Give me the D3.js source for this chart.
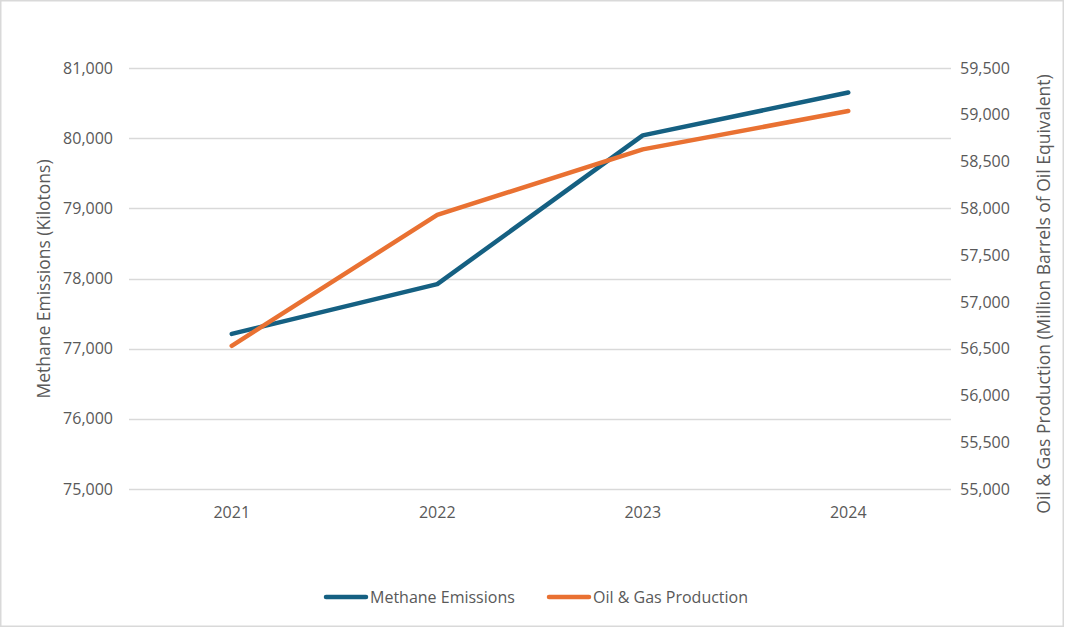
<!DOCTYPE html>
<html>
<head>
<meta charset="utf-8">
<script src="https://cdn.jsdelivr.net/npm/d3@7"></script>
<style>
  html, body { margin: 0; padding: 0; background: #fff; }
  svg { display: block; }
  text { font-family: "Open Sans", "Noto Sans", sans-serif; fill: #595959; }
</style>
</head>
<body>
<svg id="chart" width="1065" height="628"></svg>
<script>
const years = ["2021", "2022", "2023", "2024"];
const methane = [77210, 77920, 80040, 80650];
const oilGas = [56530, 57930, 58630, 59040];
const leftTicks = [75000, 76000, 77000, 78000, 79000, 80000, 81000];
const rightTicks = [55000, 55500, 56000, 56500, 57000, 57500, 58000, 58500, 59000, 59500];
const seriesNames = ["Methane Emissions", "Oil & Gas Production"];
const colors = ["#156082", "#E97132"];

const svg = d3.select("#chart");
const W = 1065, H = 628;
const plot = { left: 129, right: 951, top: 68, bottom: 489 };

svg.append("rect").attr("x", 0.75).attr("y", 0.75).attr("width", W - 2.5).attr("height", H - 2.5)
  .attr("fill", "#fff").attr("stroke", "#d9d9d9").attr("stroke-width", 1.5);

const x = d3.scaleBand().domain(years).range([plot.left, plot.right]);
const yL = d3.scaleLinear().domain([75000, 81000]).range([plot.bottom, plot.top]);
const yR = d3.scaleLinear().domain([55000, 59500]).range([plot.bottom, plot.top]);
const fmt = d3.format(",");

// gridlines
svg.append("g").selectAll("line").data(leftTicks).join("line")
  .attr("x1", plot.left).attr("x2", plot.right)
  .attr("y1", d => Math.round(yL(d)) + 0.5).attr("y2", d => Math.round(yL(d)) + 0.5)
  .attr("stroke", "#d9d9d9").attr("stroke-width", 1.3);

// left axis
const gL = svg.append("g").attr("transform", `translate(${plot.left},0)`)
  .call(d3.axisLeft(yL).tickValues(leftTicks).tickFormat(fmt).tickSize(0).tickPadding(16));
gL.select(".domain").remove();
gL.selectAll("text").style("font-size", "16px").attr("fill", "#595959");

// right axis
const gR = svg.append("g").attr("transform", `translate(${plot.right},0)`)
  .call(d3.axisRight(yR).tickValues(rightTicks).tickFormat(fmt).tickSize(0).tickPadding(9));
gR.select(".domain").remove();
gR.selectAll("text").style("font-size", "16px").attr("fill", "#595959");

// bottom axis
const gB = svg.append("g").attr("transform", `translate(0,${plot.bottom})`)
  .call(d3.axisBottom(x).tickSize(0).tickPadding(18));
gB.select(".domain").remove();
gB.selectAll("text").style("font-size", "16px").attr("fill", "#595959");

// axis titles
svg.append("text").attr("transform", `translate(50,279) rotate(-90)`)
  .attr("text-anchor", "middle").style("font-size", "17.5px").text("Methane Emissions (Kilotons)");
svg.append("text").attr("transform", `translate(1050,294) rotate(-90)`)
  .attr("text-anchor", "middle").style("font-size", "17.5px").text("Oil & Gas Production (Million Barrels of Oil Equivalent)");

// lines
const cx = d => x(d) + x.bandwidth() / 2;
const lineL = d3.line().x((d, i) => cx(years[i])).y(d => yL(d));
const lineR = d3.line().x((d, i) => cx(years[i])).y(d => yR(d));

svg.append("path").datum(methane).attr("d", lineL)
  .attr("fill", "none").attr("stroke", colors[0]).attr("stroke-width", 4.5)
  .attr("stroke-linecap", "round").attr("stroke-linejoin", "round");
svg.append("path").datum(oilGas).attr("d", lineR)
  .attr("fill", "none").attr("stroke", colors[1]).attr("stroke-width", 4.5)
  .attr("stroke-linecap", "round").attr("stroke-linejoin", "round");

// legend
const legendItems = [{ x: 326, name: seriesNames[0], c: colors[0] }, { x: 549, name: seriesNames[1], c: colors[1] }];
const lg = svg.append("g");
legendItems.forEach(it => {
  lg.append("line").attr("x1", it.x).attr("x2", it.x + 40).attr("y1", 597).attr("y2", 597)
    .attr("stroke", it.c).attr("stroke-width", 4.5).attr("stroke-linecap", "round");
  lg.append("text").attr("x", it.x + 44).attr("y", 602.5).style("font-size", "16px").text(it.name);
});
</script>
</body>
</html>
